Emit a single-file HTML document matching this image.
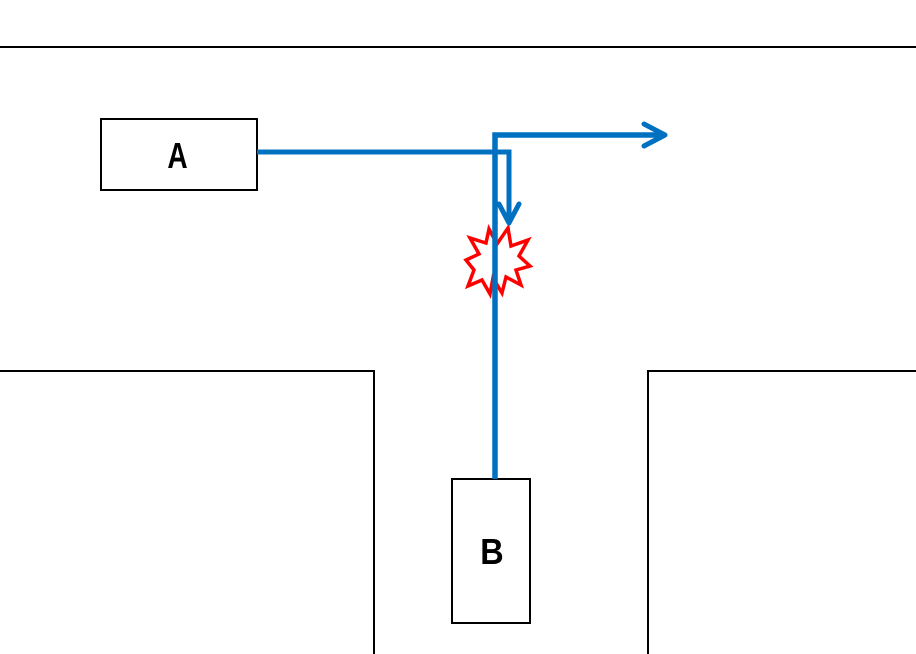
<!DOCTYPE html>
<html>
<head>
<meta charset="utf-8">
<style>
  html, body { margin: 0; padding: 0; background: #fff; }
  body { width: 916px; height: 654px; overflow: hidden; }
  svg { display: block; }
</style>
</head>
<body>
<svg width="916" height="654" viewBox="0 0 916 654" xmlns="http://www.w3.org/2000/svg">
  <rect x="0" y="0" width="916" height="654" fill="#fff"/>
  <!-- top road edge -->
  <line x1="0" y1="47" x2="916" y2="47" stroke="#000" stroke-width="2"/>
  <!-- left block -->
  <polyline points="0,371 374,371 374,654" fill="none" stroke="#000" stroke-width="2"/>
  <!-- right block -->
  <polyline points="916,371 648,371 648,654" fill="none" stroke="#000" stroke-width="2"/>

  <!-- Box A -->
  <rect x="101" y="119" width="156" height="71" fill="#fff" stroke="#000" stroke-width="2"/>
  <text transform="translate(177.5,168) scale(0.78,1)" text-anchor="middle" font-family="Liberation Sans, sans-serif" font-weight="bold" font-size="36" fill="#000">A</text>

  <!-- Box B -->
  <rect x="452" y="479" width="78" height="144" fill="#fff" stroke="#000" stroke-width="2"/>
  <text transform="translate(492,564) scale(0.9,1)" text-anchor="middle" font-family="Liberation Sans, sans-serif" font-weight="bold" font-size="36" fill="#000">B</text>

  <!-- starburst -->
  <polygon points="508,228 511,246 528,240 519,256 530,266 516,270 521,285 506,277 502,293 493,278 490,294 482,280 468,286 474,270 466,260 479,254 470,238 486,243 489,229 497,244"
           fill="#fff" stroke="#ff0000" stroke-width="3.5" stroke-linejoin="miter"/>

  <!-- path A -> down -->
  <polyline points="257,152 509,152 509,223" fill="none" stroke="#0070C0" stroke-width="5"/>
  <polyline points="499,204 509,223 519,204" fill="none" stroke="#0070C0" stroke-width="5" stroke-linecap="round" stroke-linejoin="round"/>

  <!-- path B -> up -> right -->
  <polyline points="495,479 495,135 664,135" fill="none" stroke="#0070C0" stroke-width="5.5"/>
  <polyline points="644,124 665,135 644,146" fill="none" stroke="#0070C0" stroke-width="5" stroke-linecap="round" stroke-linejoin="round"/>
</svg>
</body>
</html>
